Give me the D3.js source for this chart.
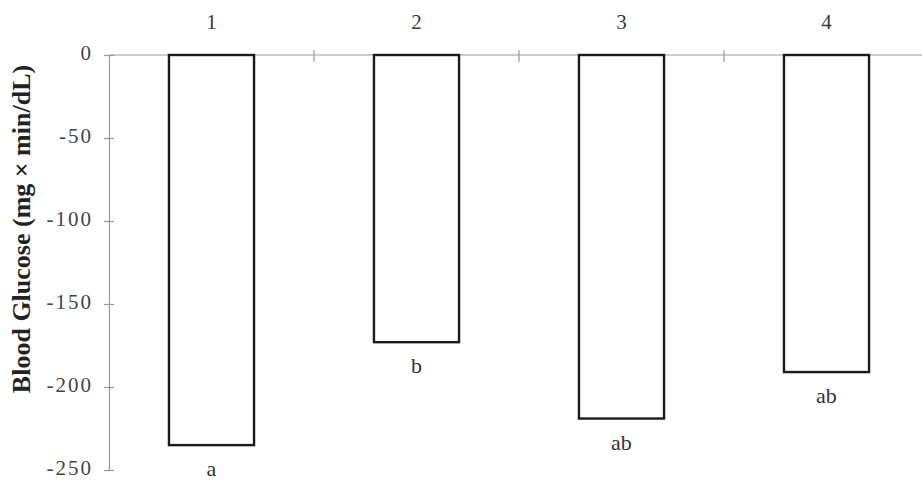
<!DOCTYPE html>
<html>
<head>
<meta charset="utf-8">
<script src="https://cdn.jsdelivr.net/npm/d3@7"></script>
<style>
  body { margin: 0; background: #fff; }
  svg { display: block; }
  text { font-family: "Liberation Serif", "DejaVu Serif", serif; }
</style>
</head>
<body>
<div id="chart"></div>
<script>
// categories, values and significance letters
const groups = ['1', '2', '3', '4'];
const glucose = [-235, -173, -219, -191];
const letters = ['a', 'b', 'ab', 'ab'];
const yTicks = [0, -50, -100, -150, -200, -250];

const width = 922, height = 480;
const margin = { top: 55, right: -7, bottom: 10, left: 109 };

const svg = d3.select('#chart').append('svg')
    .attr('width', width)
    .attr('height', height);

// y scale: 0 at the top, -250 at the bottom
const yScale = d3.scaleLinear()
    .domain([0, -250])
    .range([margin.top, 470]);

const xScale = d3.scaleBand()
    .domain(groups)
    .range([margin.left, width - margin.right])
    .paddingInner(0.585)
    .paddingOuter(0.2925);

const axisColor = '#9a9a9a';

// top axis line along zero
svg.append('line')
    .attr('x1', margin.left).attr('x2', width)
    .attr('y1', yScale(0)).attr('y2', yScale(0))
    .attr('stroke', axisColor)
    .attr('stroke-width', 1.2);

// small ticks between the groups
const step = xScale.step();
svg.selectAll('.xtick')
    .data(groups.slice(1))
    .join('line')
    .attr('class', 'xtick')
    .attr('x1', d => xScale(d) - step * xScale.paddingInner() / 2)
    .attr('x2', d => xScale(d) - step * xScale.paddingInner() / 2)
    .attr('y1', yScale(0) - 5)
    .attr('y2', yScale(0) + 7)
    .attr('stroke', axisColor)
    .attr('stroke-width', 1.2);

// group labels above the zero line
svg.selectAll('.xlabel')
    .data(groups)
    .join('text')
    .attr('class', 'xlabel')
    .attr('x', d => xScale(d) + xScale.bandwidth() / 2)
    .attr('y', 29)
    .attr('text-anchor', 'middle')
    .attr('font-size', 21)
    .attr('fill', '#3a3a3a')
    .text(d => d);

// y axis, plain hyphen for the minus sign like the original
const yAxis = d3.axisLeft(yScale)
    .tickValues(yTicks)
    .tickFormat(d => String(d))
    .tickSize(5)
    .tickSizeOuter(0);

const yAxisG = svg.append('g')
    .attr('transform', `translate(${margin.left},0)`)
    .call(yAxis);

yAxisG.select('.domain')
    .attr('stroke', axisColor)
    .attr('stroke-width', 1.2);
yAxisG.selectAll('.tick line')
    .attr('stroke', axisColor)
    .attr('stroke-width', 1.2)
    .attr('x2', 5)
    .attr('x1', -5);
yAxisG.selectAll('.tick text')
    .attr('font-family', '"Liberation Serif", serif')
    .attr('font-size', 21)
    .attr('letter-spacing', 2)
    .attr('fill', '#444')
    .attr('x', -16)
    .attr('dy', '0.2em');

// y axis title
svg.append('text')
    .attr('transform', 'translate(30,229) rotate(-90)')
    .attr('text-anchor', 'middle')
    .attr('font-size', 26)
    .attr('font-weight', 'bold')
    .attr('fill', '#222')
    .text('Blood Glucose (mg × min/dL)');

// bars hanging down from zero
svg.selectAll('.bar')
    .data(glucose)
    .join('rect')
    .attr('class', 'bar')
    .attr('x', (d, i) => xScale(groups[i]))
    .attr('y', yScale(0))
    .attr('width', xScale.bandwidth())
    .attr('height', d => yScale(d) - yScale(0))
    .attr('fill', '#fff')
    .attr('stroke', '#1a1a1a')
    .attr('stroke-width', 2.4);

// significance letters under each bar
svg.selectAll('.letter')
    .data(letters)
    .join('text')
    .attr('class', 'letter')
    .attr('x', (d, i) => xScale(groups[i]) + xScale.bandwidth() / 2)
    .attr('y', (d, i) => yScale(glucose[i]) + 31)
    .attr('text-anchor', 'middle')
    .attr('font-size', 22)
    .attr('fill', '#333')
    .text(d => d);
</script>
</body>
</html>
